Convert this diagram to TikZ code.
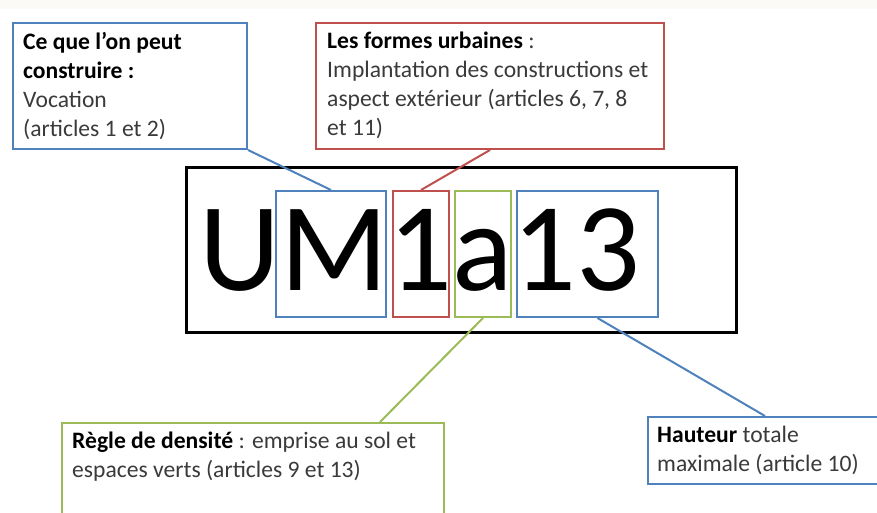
\documentclass[tikz,border=0pt]{standalone}
\usepackage{fontspec}
\setmainfont{Carlito}
\usetikzlibrary{calc}
\definecolor{oblue}{HTML}{4F81BD}
\definecolor{ored}{HTML}{C0504D}
\definecolor{ogreen}{HTML}{9BBB59}
\definecolor{txt}{HTML}{3A3A3A}
\definecolor{band}{HTML}{FBFAF7}
\begin{document}
\begin{tikzpicture}[x=1pt,y=-1pt,
  frame/.style={draw, line width=2pt, rectangle, inner sep=0pt, anchor=north west},
  lbl/.style={anchor=base west, inner sep=0pt, font=\fontsize{23.6}{29}\selectfont, text=txt, align=left},
  conn/.style={line width=2pt}]
\clip (0,0) rectangle (877,512);
\fill[band] (0,0) rectangle (877,9);
\node[frame, oblue, minimum width=234pt, minimum height=126pt] (b1) at (12,22) {};
\node[frame, ored, minimum width=348pt, minimum height=126pt] (b2) at (315,22) {};
\node[frame, ogreen, minimum width=382pt, minimum height=120pt] (gb) at (61,422) {};
\node[frame, oblue, minimum width=260pt, minimum height=67pt] (hb) at (647,416) {};
\node[frame, black, line width=2.5pt, minimum width=550pt, minimum height=165pt] (main) at (185,166) {};
\node[frame, oblue, minimum width=110pt, minimum height=126pt] (bM) at (275,190) {};
\node[frame, ored, minimum width=56pt, minimum height=126pt] (bR) at (392,190) {};
\node[frame, ogreen, minimum width=56pt, minimum height=126pt] (bG) at (454,190) {};
\node[frame, oblue, minimum width=141pt, minimum height=126pt] (b13) at (516,190) {};
\node[anchor=base, inner sep=0pt, font=\fontsize{126}{130}\selectfont] (code) at (420,290) {UM1a13};
% connectors
\draw[conn, oblue] (b1.south east) -- (bM.north);
\draw[conn, ored] (b2.south) -- (bR.north);
\draw[conn, ogreen] (bG.south) -- ($(gb.north west)+(319,0)$);
\draw[conn, oblue] ($(b13.south)+(10,0)$) -- ($(hb.north west)+(118,0)$);
% labels (anchored at the baseline of their last line)
\node[lbl] (t1) at (23,136) {\textcolor{black}{\textbf{Ce que l’on peut}}\\\textcolor{black}{\textbf{construire :}}\\Vocation\\(articles 1 et 2)};
\node[lbl] (t2) at (327,135) {\textcolor{black}{\textbf{Les formes urbaines}} :\\Implantation des constructions et\\aspect extérieur (articles 6, 7, 8\\et 11)};
\node[lbl] (t3) at (72,477) {\textcolor{black}{\textbf{Règle de densité}} : emprise au sol et\\espaces verts (articles 9 et 13)};
\node[lbl] (t4) at (657,471) {\textcolor{black}{\textbf{Hauteur}} totale\\maximale (article 10)};
\end{tikzpicture}
\end{document}
